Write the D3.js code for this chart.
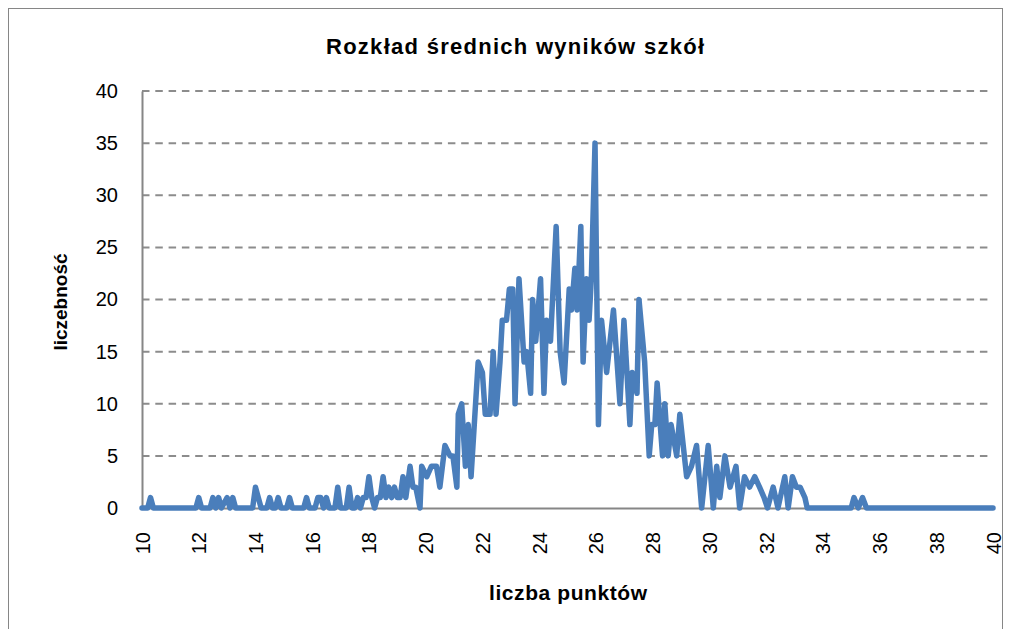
<!DOCTYPE html>
<html>
<head>
<meta charset="utf-8">
<script src="https://cdn.jsdelivr.net/npm/d3@7/dist/d3.min.js"></script>
<style>
  body { margin: 0; background: #fff; }
  text { font-family: "Liberation Sans", Arial, sans-serif; }
</style>
</head>
<body>
<svg width="1009" height="629"></svg>
<script>
// chart text
const chartTitle = "Rozkład średnich wyników szkół";
const xTitle = "liczba punktów";
const yTitle = "liczebność";

// tick labels
const xTicks = [10, 12, 14, 16, 18, 20, 22, 24, 26, 28, 30, 32, 34, 36, 38, 40];
const yTicks = [0, 5, 10, 15, 20, 25, 30, 35, 40];

// average score of a school (x) and number of schools (y)
const scores = [
    10, 10.2, 10.3, 10.4, 11.9, 12.0, 12.1, 12.4, 12.5, 12.6, 12.7, 12.8, 13.0, 13.1, 13.2, 13.3,
    13.9, 14.0, 14.2, 14.4, 14.5, 14.6, 14.7, 14.8, 14.9, 15.1, 15.2, 15.3, 15.7, 15.8, 15.9,
    16.1, 16.2, 16.3, 16.4, 16.5, 16.6, 16.8, 16.9, 17.0, 17.2, 17.3, 17.4, 17.5, 17.6, 17.7,
    17.8, 17.9, 18.0, 18.1, 18.2, 18.3, 18.4, 18.5, 18.6, 18.7, 18.8, 18.9, 19.0, 19.1, 19.2,
    19.3, 19.45, 19.55, 19.65, 19.8, 19.86, 20.04, 20.2, 20.38, 20.5, 20.68, 20.86, 20.96,
    21.1, 21.15, 21.27, 21.4, 21.5, 21.6, 21.85, 22.0, 22.1, 22.27, 22.38, 22.48, 22.62, 22.7,
    22.85, 22.95, 23.07, 23.15, 23.29, 23.47, 23.56, 23.7, 23.77, 23.88, 24.05, 24.17, 24.26,
    24.4, 24.6, 24.74, 24.88, 25.06, 25.14, 25.26, 25.34, 25.47, 25.55, 25.67, 25.76, 25.84,
    25.97, 26.09, 26.2, 26.38, 26.62, 26.85, 26.99, 27.2, 27.28, 27.45, 27.52, 27.72, 27.88,
    27.97, 28.08, 28.16, 28.35, 28.43, 28.55, 28.65, 28.85, 28.96, 29.2, 29.37, 29.55, 29.73,
    29.96, 30.14, 30.26, 30.37, 30.55, 30.73, 30.94, 31.07, 31.24, 31.42, 31.6, 31.77, 31.93,
    32.05, 32.25, 32.42, 32.66, 32.78, 32.93, 33.07, 33.2, 33.37, 33.45, 35.0, 35.1, 35.25,
    35.4, 35.54, 40
];
const counts = [
    0, 0, 1, 0, 0, 1, 0, 0, 1, 0, 1, 0, 1, 0, 1, 0,
    0, 2, 0, 0, 1, 0, 0, 1, 0, 0, 1, 0, 0, 1, 0,
    0, 1, 1, 0, 1, 0, 0, 2, 0, 0, 2, 0, 0, 1, 0,
    1, 1, 3, 1, 0, 1, 1, 3, 1, 2, 1, 2, 1, 1, 3,
    1, 4, 2, 2, 0, 4, 3, 4, 4, 2, 6, 5, 5,
    2, 9, 10, 4, 8, 3, 14, 13, 9, 9, 15, 9, 14, 18,
    18, 21, 21, 10, 22, 14, 15, 11, 20, 16, 22, 11, 18,
    16, 27, 15, 12, 21, 19, 23, 19, 27, 14, 22, 18, 22,
    35, 8, 18, 13, 19, 10, 18, 8, 13, 11, 20, 14, 5,
    8, 8, 12, 5, 10, 5, 8, 5, 9, 3, 4, 6, 0,
    6, 0, 4, 1, 5, 2, 4, 0, 3, 2, 3, 2, 1,
    0, 2, 0, 3, 0, 3, 2, 2, 1, 0, 0, 1, 0,
    1, 0, 0
];

const data = scores.map((s, i) => ({ x: s, y: counts[i] }));

const svg = d3.select("svg");

// outer chart frame
svg.append("rect")
    .attr("x", 8.5).attr("y", 8.5)
    .attr("width", 994).attr("height", 640)
    .attr("fill", "#fff")
    .attr("stroke", "#868686")
    .attr("stroke-width", 1);

// plot area
const plotLeft = 142, plotRight = 993, plotTop = 91, plotBottom = 508;

const x = d3.scaleLinear().domain([10, 40]).range([plotLeft, plotRight]);
const y = d3.scaleLinear().domain([0, 40]).range([plotBottom, plotTop]);

// dashed gridlines
svg.append("g")
    .selectAll("line")
    .data(yTicks.filter(d => d > 0))
    .enter().append("line")
        .attr("x1", plotLeft).attr("x2", plotRight)
        .attr("y1", d => y(d)).attr("y2", d => y(d))
        .attr("stroke", "#8c8c8c")
        .attr("stroke-width", 2)
        .attr("stroke-dasharray", "7.5,5.8");

// y axis
const yAxis = svg.append("g")
    .attr("transform", "translate(" + plotLeft + ",0)")
    .call(d3.axisLeft(y).tickValues(yTicks).tickSize(0).tickPadding(24));
yAxis.select(".domain").attr("stroke", "#868686").attr("stroke-width", 2);
yAxis.selectAll("text")
    .attr("font-size", 20)
    .attr("fill", "#000")
    .style("font-family", "'Liberation Sans', Arial, sans-serif");

// x axis, labels turned upright
const xAxis = svg.append("g")
    .attr("transform", "translate(0," + plotBottom + ")")
    .call(d3.axisBottom(x).tickValues(xTicks).tickSize(0));
xAxis.select(".domain").attr("stroke", "#868686").attr("stroke-width", 2);
xAxis.selectAll("text")
    .attr("font-size", 20)
    .attr("fill", "#000")
    .style("font-family", "'Liberation Sans', Arial, sans-serif")
    .attr("text-anchor", "end")
    .attr("dy", "0.35em")
    .attr("x", 0)
    .attr("y", 0)
    .attr("transform", "translate(0,24) rotate(-90)");

// the series line
const line = d3.line()
    .x(d => x(d.x))
    .y(d => y(d.y));

svg.append("path")
    .datum(data)
    .attr("d", line)
    .attr("fill", "none")
    .attr("stroke", "#4a7ebb")
    .attr("stroke-width", 5.5)
    .attr("stroke-linejoin", "round")
    .attr("stroke-linecap", "round");

// titles
svg.append("text")
    .attr("x", 515).attr("y", 54)
    .attr("text-anchor", "middle")
    .attr("font-size", 22)
    .attr("font-weight", "bold")
    .attr("textLength", 378)
    .attr("lengthAdjust", "spacing")
    .text(chartTitle);

svg.append("text")
    .attr("x", 568).attr("y", 600)
    .attr("text-anchor", "middle")
    .attr("font-size", 21)
    .attr("font-weight", "bold")
    .attr("textLength", 158)
    .attr("lengthAdjust", "spacing")
    .text(xTitle);

svg.append("text")
    .attr("transform", "translate(67,302) rotate(-90)")
    .attr("text-anchor", "middle")
    .attr("font-size", 19)
    .attr("font-weight", "bold")
    .text(yTitle);
</script>
</body>
</html>
